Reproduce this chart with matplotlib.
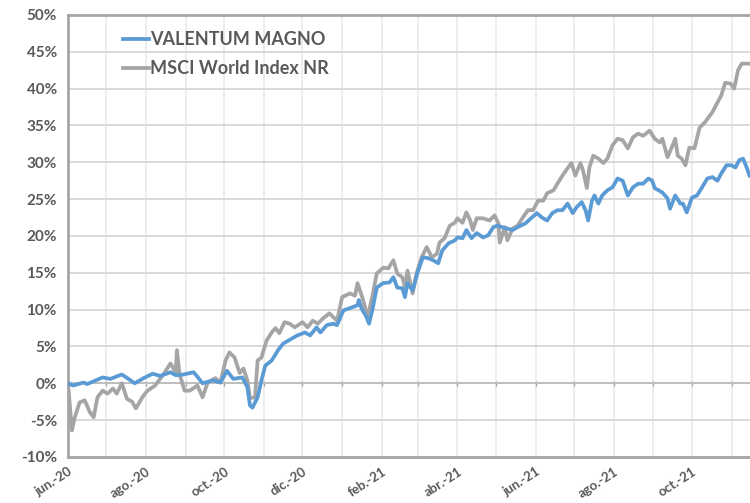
import numpy as np
import matplotlib
matplotlib.use("Agg")
import matplotlib.pyplot as plt
import matplotlib.dates as mdates

plt.rcParams['font.family'] = ['Lato', 'DejaVu Sans']

# days since 2020-06-01 and cumulative return (%)
fund_days = [0, 4, 12, 15, 27, 33, 42, 48, 52, 59, 66, 72, 80, 84, 90, 98, 101, 105, 113, 119,
             124, 129, 136, 140, 142, 144, 148, 151, 154, 159, 164, 168, 172, 179, 185, 189, 194, 197,
             202, 207, 210, 215, 220, 226, 227, 229, 233, 235, 238, 241, 246, 251, 254, 257, 261, 263,
             265, 269, 273, 277, 281, 285, 289, 292, 297, 302, 304, 308, 311, 315, 319, 324, 328, 332,
             335, 339, 343, 347, 351, 357, 362, 366, 370, 374, 378, 382, 386, 390, 394, 397, 401, 404,
             406, 409, 411, 414, 417, 421, 425, 429, 433, 437, 441, 445, 449, 453, 456, 458, 464, 468,
             470, 474, 478, 480, 483, 487, 491, 495, 499, 503, 507, 510, 514, 518, 521, 524, 527, 530, 532]
fund_vals = [0.0, -0.3, 0.1, -0.1, 0.8, 0.6, 1.2, 0.5, 0.0, 0.7, 1.3, 1.0, 1.5, 1.1, 1.2, 1.5, 0.9, 0.0, 0.4, 0.1,
             1.7, 0.6, 0.8, -0.5, -3.0, -3.3, -1.9, 0.4, 2.4, 3.1, 4.5, 5.4, 5.8, 6.5, 6.9, 6.5, 7.6, 6.9,
             7.9, 8.1, 7.9, 9.9, 10.2, 10.6, 11.3, 10.2, 9.0, 8.1, 10.3, 13.0, 13.6, 13.7, 14.4, 13.0, 12.9, 11.7,
             13.6, 12.6, 15.1, 17.1, 17.0, 16.7, 16.3, 18.0, 19.0, 19.4, 19.8, 19.7, 20.8, 19.7, 20.4, 19.8, 20.1, 21.2,
             21.4, 21.2, 21.0, 20.8, 21.2, 21.7, 22.5, 23.1, 22.5, 22.1, 23.1, 23.5, 23.5, 24.4, 23.1, 23.9, 24.6, 23.5,
             22.1, 24.8, 25.5, 24.4, 25.5, 26.2, 26.6, 27.8, 27.5, 25.5, 26.6, 27.1, 27.1, 27.8, 27.5, 26.5, 25.9, 25.1,
             23.7, 25.5, 24.4, 24.4, 23.2, 25.2, 25.5, 26.6, 27.8, 28.0, 27.5, 28.5, 29.6, 29.6, 29.3, 30.3, 30.5, 29.2, 28.2]

msci_days = [0, 3, 5, 9, 13, 17, 20, 23, 27, 31, 35, 38, 42, 46, 50, 53, 58, 62, 68, 74,
             80, 84, 85, 87, 91, 95, 101, 105, 109, 115, 119, 123, 126, 130, 134, 137, 140, 142, 146, 148,
             151, 155, 159, 162, 165, 169, 173, 177, 183, 187, 191, 195, 199, 204, 210, 214, 220, 224, 226, 230,
             234, 238, 241, 246, 250, 254, 257, 261, 263, 265, 269, 272, 276, 280, 284, 288, 290, 294, 298, 302,
             304, 308, 311, 314, 316, 319, 324, 329, 333, 336, 337, 341, 343, 347, 351, 355, 359, 363, 367, 371,
             374, 379, 382, 386, 390, 393, 396, 400, 402, 405, 407, 410, 414, 418, 421, 425, 429, 433, 437, 441,
             445, 449, 454, 458, 462, 464, 468, 471, 474, 476, 479, 482, 485, 489, 493, 497, 500, 503, 507, 510,
             513, 517, 520, 523, 526, 530, 532]
msci_vals = [0.0, -6.4, -4.8, -2.6, -2.3, -3.9, -4.6, -1.9, -1.0, -1.4, -0.7, -1.4, 0.0, -2.1, -2.5, -3.4, -1.9, -1.0, -0.3, 1.1,
             2.7, 1.5, 4.5, 1.3, -1.0, -1.0, -0.3, -1.9, 0.1, 0.7, 0.1, 3.1, 4.2, 3.5, 1.4, 2.0, 0.4, -2.0, -1.9, 3.1,
             3.5, 5.8, 6.9, 7.5, 6.8, 8.3, 8.1, 7.6, 8.3, 7.6, 8.5, 8.1, 8.8, 9.5, 8.5, 11.7, 12.2, 11.9, 13.6, 11.5,
             9.0, 12.2, 14.9, 15.7, 15.6, 16.7, 14.9, 14.4, 13.0, 15.3, 12.2, 14.9, 17.1, 18.5, 17.1, 17.6, 19.1, 19.7, 21.4, 21.8,
             22.4, 21.8, 23.2, 22.1, 20.8, 22.4, 22.4, 22.1, 22.8, 21.7, 19.1, 21.2, 19.4, 21.0, 21.4, 22.5, 23.5, 23.5, 24.8, 24.8,
             25.8, 26.2, 27.1, 28.2, 29.2, 29.9, 28.2, 29.9, 28.9, 26.5, 29.3, 30.9, 30.5, 29.9, 30.5, 32.3, 33.2, 33.0, 31.9, 33.4,
             33.9, 33.6, 34.3, 33.2, 32.7, 33.2, 30.7, 31.9, 33.2, 30.9, 30.5, 29.6, 32.0, 31.9, 34.7, 35.4, 36.1, 36.8, 38.1, 39.1,
             40.8, 40.7, 40.0, 42.5, 43.4, 43.4, 43.4]

month_abbr = ['ene.', 'feb.', 'mar.', 'abr.', 'may.', 'jun.', 'jul.', 'ago.', 'sep.', 'oct.', 'nov.', 'dic.']
y_ticks = [-10, -5, 0, 5, 10, 15, 20, 25, 30, 35, 40, 45, 50]

start = np.datetime64('2020-06-01')
fund_x = start + np.array(fund_days).astype('timedelta64[D]')
msci_x = start + np.array(msci_days).astype('timedelta64[D]')

txt = '#595959'
fig = plt.figure(figsize=(7.5, 5.03), dpi=100)
ax = fig.add_axes([0.0907, 0.0915, 0.93, 0.8787])

ax.plot(msci_x, msci_vals, color='#A5A5A5', lw=2.7, label='MSCI World Index NR', zorder=3)
ax.plot(fund_x, fund_vals, color='#5B9BD5', lw=2.7, label='VALENTUM MAGNO', zorder=4)

# month ticks, label every second month
months = np.arange(np.datetime64('2020-06'), np.datetime64('2021-12'), np.timedelta64(1, 'M'))
month_dates = months.astype('datetime64[D]')
labels = []
for i, m in enumerate(months):
    y, mo = int(str(m)[:4]), int(str(m)[5:7])
    labels.append(f"{month_abbr[mo-1]}-{y % 100}" if i % 2 == 0 else '')
ax.set_xticks(mdates.date2num(month_dates))
ax.set_xticklabels(labels, rotation=33, ha='right', rotation_mode='anchor',
                   fontsize=9.5, fontweight='bold', color=txt)
ax.tick_params(axis='x', length=0, pad=6)
ax.set_xlim(mdates.date2num(start), mdates.date2num(start) + 544.5)

ax.set_ylim(-10, 50)
ax.set_yticks(y_ticks)
ax.set_yticklabels([f"{v}%" for v in y_ticks], fontsize=11, fontweight='bold', color=txt)
ax.tick_params(axis='y', length=0, pad=8)

ax.grid(axis='y', color='#D9D9D9', lw=1.4, zorder=0)
ax.grid(axis='x', color='#EDEDED', lw=1.4, zorder=0)
ax.set_axisbelow(True)

# small tick marks on the zero line
ax.vlines(mdates.date2num(month_dates[1:]), -0.35, 0.35, color='#A6A6A6', lw=1, zorder=1)
ax.axhline(0, color='#BFBFBF', lw=1.4, zorder=1)

for s in ['left', 'bottom', 'top']:
    ax.spines[s].set_color('#A6A6A6')
    ax.spines[s].set_linewidth(2)
ax.spines['right'].set_visible(False)

h, l = ax.get_legend_handles_labels()
leg = ax.legend(h[::-1], l[::-1], loc='upper left', bbox_to_anchor=(0.056, 1.0), frameon=False,
                handlelength=1.4, handletextpad=0.1, labelspacing=0.65,
                prop={'weight': 'bold', 'size': 13})
for t in leg.get_texts():
    t.set_color(txt)

fig.savefig('out.png', dpi=100)
